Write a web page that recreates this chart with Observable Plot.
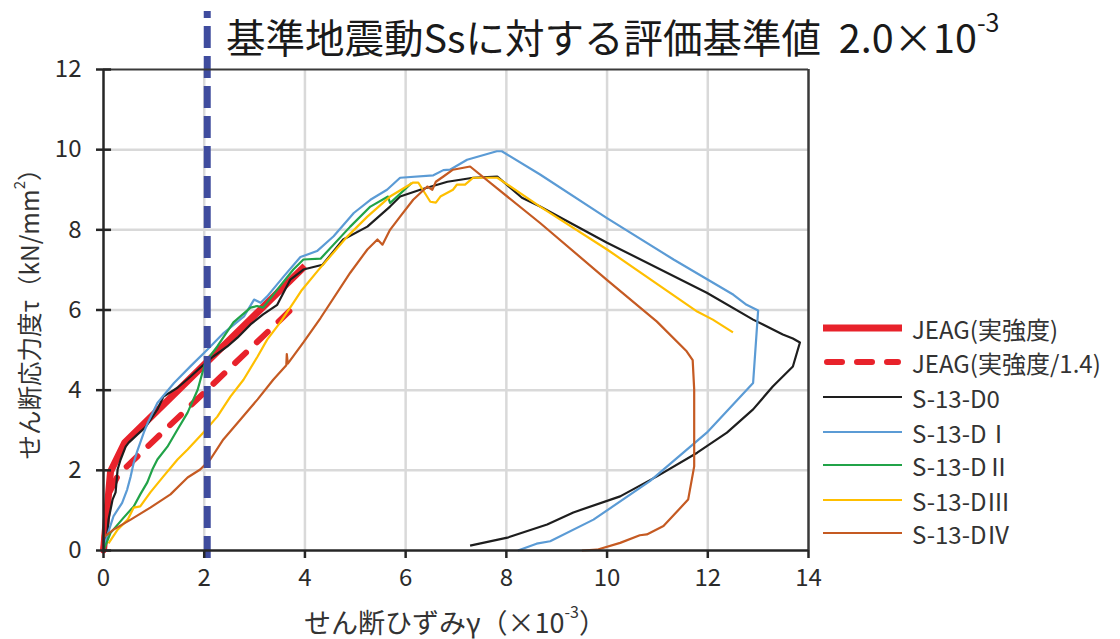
<!DOCTYPE html>
<html><head><meta charset="utf-8">
<script src="https://cdn.jsdelivr.net/npm/d3@7"></script>
<script src="https://cdn.jsdelivr.net/npm/@observablehq/plot@0.6"></script>
<style>
html,body{margin:0;padding:0;background:#fff;}
#chart{width:1120px;height:639px;}
</style></head><body><div id="chart"></div>
<script>
// ---- tick values ----
const xTicks = [0, 2, 4, 6, 8, 10, 12, 14];
const yTicks = [0, 2, 4, 6, 8, 10, 12];

// ---- texts ----
const titleMain = "基準地震動Ssに対する評価基準値";
const titleValue = "2.0×10";
const titleExp = "-3";
const xLabelMain = "せん断ひずみγ（×10";
const xLabelExp = "-3";
const yLabelMain = "せん断応力度τ（kN/mm";
const yLabelExp = "2";
const thresholdGamma = [2.06];

// ---- series ----
const jeag = [[0,0],[0.14,1.97],[0.42,2.69],[4.0,7.1]];
const jeag14 = [[0,0],[0.1,1.41],[0.3,1.9],[3.9,6.22]];
const d0 = [[0,0],[0.08,0.45],[0.1,0.77],[0.18,1.27],[0.24,1.45],[0.28,2.02],[0.34,2.27],[0.44,2.59],[0.5,2.69],[0.67,2.89],[0.83,3.07],[1.07,3.52],[1.19,3.84],[1.47,4.06],[1.73,4.34],[1.92,4.56],[2.18,4.84],[2.46,5.09],[2.66,5.31],[2.92,5.64],[3.17,5.89],[3.45,6.13],[3.71,6.76],[3.97,7.01],[4.35,7.13],[4.76,7.76],[5.24,8.08],[5.69,8.58],[5.89,8.83],[6.29,9.0],[6.83,9.2],[7.34,9.3],[7.82,9.33],[8.31,8.8],[8.67,8.58],[10.0,7.68],[11.98,6.43],[12.9,5.76],[13.49,5.39],[13.69,5.29],[13.83,5.19],[13.69,4.59],[13.29,4.09],[12.9,3.52],[12.38,2.94],[11.79,2.44],[10.99,1.85],[10.26,1.35],[9.33,0.95],[8.81,0.65],[8.02,0.32],[7.28,0.12]];
const d1 = [[0,0],[0.07,0.36],[0.2,0.86],[0.37,1.19],[0.47,1.52],[0.54,1.85],[0.6,2.19],[0.67,2.48],[0.73,2.69],[0.8,2.94],[0.88,3.19],[1.07,3.68],[1.4,4.18],[1.73,4.6],[2.06,5.01],[2.39,5.43],[2.79,5.84],[2.99,6.26],[3.12,6.18],[3.25,6.34],[3.58,6.84],[3.91,7.32],[4.24,7.47],[4.57,7.84],[4.97,8.42],[5.3,8.75],[5.63,9.0],[5.89,9.3],[6.55,9.36],[6.75,9.49],[6.88,9.5],[7.22,9.75],[7.81,9.96],[7.91,9.96],[8.67,9.38],[9.99,8.3],[11.32,7.26],[12.51,6.38],[12.77,6.13],[13.0,5.99],[12.9,4.18],[11.98,2.94],[10.85,1.73],[9.73,0.77],[8.87,0.23],[8.6,0.17],[8.23,0]];
const d2 = [[0,0],[0.14,0.44],[0.4,0.82],[0.6,1.1],[0.73,1.4],[0.87,1.7],[0.97,2.02],[1.07,2.27],[1.27,2.59],[1.47,3.02],[1.67,3.44],[1.87,4.01],[2.02,4.69],[2.26,5.09],[2.58,5.69],[2.92,6.06],[3.05,6.1],[3.17,6.06],[3.45,6.51],[3.77,7.01],[3.97,7.26],[4.31,7.28],[4.9,8.08],[5.3,8.58],[5.65,8.83],[5.69,8.67],[5.83,8.83],[6.12,9.17]];
const d3s = [[0.1,0.18],[0.28,0.52],[0.48,0.77],[0.6,1.07],[0.73,1.1],[0.93,1.45],[1.19,1.85],[1.47,2.27],[1.67,2.52],[1.98,2.94],[2.26,3.34],[2.52,3.84],[2.78,4.26],[3.06,4.84],[3.25,5.26],[3.51,5.69],[3.77,6.18],[3.94,6.5],[4.27,7.0],[4.84,7.83],[5.24,8.33],[5.69,8.83],[6.15,9.18],[6.25,9.18],[6.49,8.7],[6.6,8.68],[6.69,8.83],[6.94,9.0],[7.02,9.13],[7.18,9.13],[7.34,9.3],[7.82,9.3],[8.67,8.58],[10.0,7.51],[11.79,5.96],[12.1,5.76],[12.5,5.44]];
const d4 = [[0,0.33],[0.2,0.52],[0.54,0.77],[0.93,1.07],[1.33,1.4],[1.67,1.82],[1.92,2.02],[2.12,2.27],[2.38,2.77],[2.72,3.27],[3.06,3.77],[3.37,4.26],[3.63,4.62],[3.64,4.9],[3.66,4.66],[3.97,5.19],[4.31,5.8],[4.9,6.93],[5.24,7.51],[5.44,7.76],[5.54,7.63],[5.69,8.0],[5.89,8.33],[6.15,8.75],[6.43,9.08],[6.53,9.0],[6.6,9.2],[6.75,9.33],[6.94,9.5],[7.28,9.58],[8.67,8.17],[9.99,6.76],[10.99,5.71],[11.58,4.97],[11.7,4.75],[11.73,4.02],[11.73,2.1],[11.61,1.27],[11.12,0.61],[10.79,0.4],[10.65,0.38],[10.26,0.19],[9.8,0.02],[9.5,0]];

const seriesNames = ["JEAG(実強度)", "JEAG(実強度/1.4)", "S-13-D0", "S-13-DⅠ", "S-13-DⅡ", "S-13-DⅢ", "S-13-DⅣ"];
const seriesData = [jeag, jeag14, d0, d1, d2, d3s, d4];
const seriesColors = ["#E8222B", "#E8222B", "#1E1E1E", "#5B9BD5", "#21A348", "#FFBF00", "#C55A22"];
const seriesWidths = [7, 6, 2.2, 2.2, 2.2, 2.2, 2.2];
const seriesDash = [null, "15,15", null, null, null, null, null];

const FONT = "'Noto Sans CJK JP', sans-serif";

const lineMarks = seriesData.map((data, i) => Plot.line(data, {
  x: d => d[0], y: d => d[1],
  stroke: seriesColors[i], strokeWidth: seriesWidths[i],
  strokeDasharray: seriesDash[i] ?? undefined,
  strokeLinecap: seriesDash[i] ? "round" : "butt",
  strokeLinejoin: "round"
}));

const chart = Plot.plot({
  width: 1120, height: 639,
  marginLeft: 103, marginRight: 312, marginTop: 69, marginBottom: 89,
  style: {fontFamily: FONT, background: "#fff", color: "#2b2b2b"},
  x: {domain: [0, 14]},
  y: {domain: [0, 12]},
  marks: [
    Plot.gridX(xTicks.filter(v => v > 0 && v < 14), {stroke: "#d9d9d9", strokeOpacity: 1, strokeWidth: 2.5}),
    Plot.gridY(yTicks.filter(v => v > 0 && v < 12), {stroke: "#d9d9d9", strokeOpacity: 1, strokeWidth: 2.5}),
    ...lineMarks,
    Plot.ruleX(thresholdGamma, {y1: -0.2, y2: 13.45, stroke: "#3F4C9E", strokeWidth: 7, strokeDasharray: "22,8"}),
    Plot.ruleY([12], {stroke: "#3a3a3a", strokeWidth: 2}),
    Plot.ruleX([14], {stroke: "#3a3a3a", strokeWidth: 2.5}),
    Plot.ruleX([0], {stroke: "#262626", strokeWidth: 2.5}),
    Plot.ruleY([0], {stroke: "#262626", strokeWidth: 2.5}),
    Plot.ruleY(yTicks, {x1: 0, x2: 0.16, stroke: "#262626", strokeWidth: 2.5}),
    Plot.axisX(xTicks, {tickSize: 8, tickFormat: () => "", label: null, stroke: "#262626", strokeWidth: 2.5}),
    Plot.axisY(yTicks, {tickSize: 7, tickFormat: () => "", label: null, stroke: "#262626", strokeWidth: 2.5}),
    Plot.text(xTicks, {x: d => d, frameAnchor: "bottom", dy: 28, text: d => String(d), fontSize: 24, fill: "#2b2b2b", textAnchor: "middle", lineAnchor: "middle"}),
    Plot.text(yTicks, {y: d => d, frameAnchor: "left", dx: -22, text: d => String(d), fontSize: 24, fill: "#2b2b2b", textAnchor: "end", lineAnchor: "middle"})
  ]
});

document.getElementById("chart").appendChild(chart);
const svg = d3.select(chart);

// title
const t = svg.append("text")
  .attr("x", 226).attr("y", 35)
  .attr("text-anchor", "start")
  .attr("dominant-baseline", "central")
  .attr("font-family", FONT)
  .attr("font-size", 39.5).attr("fill", "#1a1a1a");
t.append("tspan").text(titleMain + "  " + titleValue);
t.append("tspan").attr("font-size", 25).attr("dy", -14).text(titleExp);

// axis titles
const xl = svg.append("text")
  .attr("x", 455).attr("y", 621)
  .attr("text-anchor", "middle").attr("dominant-baseline", "central")
  .attr("font-family", FONT).attr("font-size", 27).attr("fill", "#333");
xl.append("tspan").text(xLabelMain);
xl.append("tspan").attr("font-size", 16).attr("dy", -10).text(xLabelExp);
xl.append("tspan").attr("dy", 10).text("）");

const yl = svg.append("text")
  .attr("transform", "translate(28,308) rotate(-90)")
  .attr("text-anchor", "middle").attr("dominant-baseline", "central")
  .attr("font-family", FONT).attr("font-size", 24.5).attr("fill", "#333");
yl.append("tspan").text(yLabelMain);
yl.append("tspan").attr("font-size", 15).attr("dy", -10).text(yLabelExp);
yl.append("tspan").attr("dy", 10).text("）");

// legend
const legendRows = [328, 362, 397, 432, 465, 500, 533];
const lg = svg.append("g");
seriesNames.forEach((name, i) => {
  lg.append("line")
    .attr("x1", seriesDash[i] ? 827 : 823).attr("x2", seriesDash[i] ? 898 : 902)
    .attr("y1", legendRows[i]).attr("y2", legendRows[i])
    .attr("stroke", seriesColors[i]).attr("stroke-width", seriesWidths[i])
    .attr("stroke-dasharray", seriesDash[i])
    .attr("stroke-linecap", seriesDash[i] ? "round" : "butt");
  lg.append("text")
    .attr("x", 912).attr("y", legendRows[i])
    .attr("text-anchor", "start")
    .attr("dominant-baseline", "central")
    .attr("font-family", FONT).attr("font-size", 24).attr("fill", "#333")
    .text(name);
});
</script>
</body></html>
